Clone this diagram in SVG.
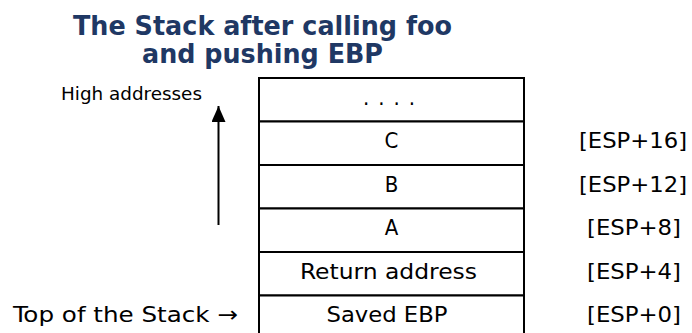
<svg xmlns="http://www.w3.org/2000/svg" width="692" height="333" viewBox="0 0 692 333">
<style>
.t{font-family:"DejaVu Sans Condensed","DejaVu Sans",Verdana,sans-serif;fill:#000}
.title{font-family:"DejaVu Sans","Liberation Sans",sans-serif;font-weight:bold;font-size:27px;fill:#1F3864;text-anchor:middle}
.cell{font-size:22px;text-anchor:middle}
.lbl{font-size:22px;text-anchor:middle}
.box{fill:#fff;stroke:#000;stroke-width:2}
</style>
<defs>
<marker id="ah" markerWidth="16" markerHeight="14" refX="16" refY="7" orient="auto" markerUnits="userSpaceOnUse" viewBox="0 0 16 14">
<path d="M0,0 L16,7 L0,14 Z" fill="#000"/>
</marker>
</defs>
<g id="title">
<text class="title" x="262.5" y="35" textLength="379" lengthAdjust="spacingAndGlyphs">The Stack after calling foo</text>
<text class="title" x="262.5" y="63" textLength="241" lengthAdjust="spacingAndGlyphs">and pushing EBP</text>
</g>
<g id="row-dots"><rect class="box" x="259" y="78" width="265" height="43.5"/><text class="t cell" x="389" y="105" textLength="52" lengthAdjust="spacing">. . . .</text></g>
<g id="row-c"><rect class="box" x="259" y="121.5" width="265" height="43.5"/><text class="t cell" x="391.5" y="148">C</text></g>
<g id="row-b"><rect class="box" x="259" y="165" width="265" height="43.5"/><text class="t cell" x="391.5" y="191.5">B</text></g>
<g id="row-a"><rect class="box" x="259" y="208.5" width="265" height="43.5"/><text class="t cell" x="391.5" y="235">A</text></g>
<g id="row-ret"><rect class="box" x="259" y="252" width="265" height="43.5"/><text class="t cell" x="388.5" y="279" textLength="177" lengthAdjust="spacingAndGlyphs">Return address</text></g>
<g id="row-ebp"><rect class="box" x="259" y="295.5" width="265" height="43.5"/><text class="t cell" x="387" y="321.5" textLength="121" lengthAdjust="spacingAndGlyphs">Saved EBP</text></g>
<g id="offsets">
<text class="t lbl" x="633" y="148" textLength="108" lengthAdjust="spacingAndGlyphs">[ESP+16]</text>
<text class="t lbl" x="633" y="191.5" textLength="108" lengthAdjust="spacingAndGlyphs">[ESP+12]</text>
<text class="t lbl" x="634" y="235" textLength="94" lengthAdjust="spacingAndGlyphs">[ESP+8]</text>
<text class="t lbl" x="634" y="279" textLength="94" lengthAdjust="spacingAndGlyphs">[ESP+4]</text>
<text class="t lbl" x="634" y="321.5" textLength="94" lengthAdjust="spacingAndGlyphs">[ESP+0]</text>
</g>
<g id="high-label"><text class="t" x="61" y="100" font-size="18" textLength="141" lengthAdjust="spacingAndGlyphs">High addresses</text></g>
<g id="top-label"><text class="t" x="13" y="321.5" font-size="22" textLength="225" lengthAdjust="spacingAndGlyphs">Top of the Stack →</text></g>
<g id="connectors">
<line x1="218.5" y1="225" x2="218.5" y2="106" stroke="#000" stroke-width="2" marker-end="url(#ah)"/>
</g>
</svg>
